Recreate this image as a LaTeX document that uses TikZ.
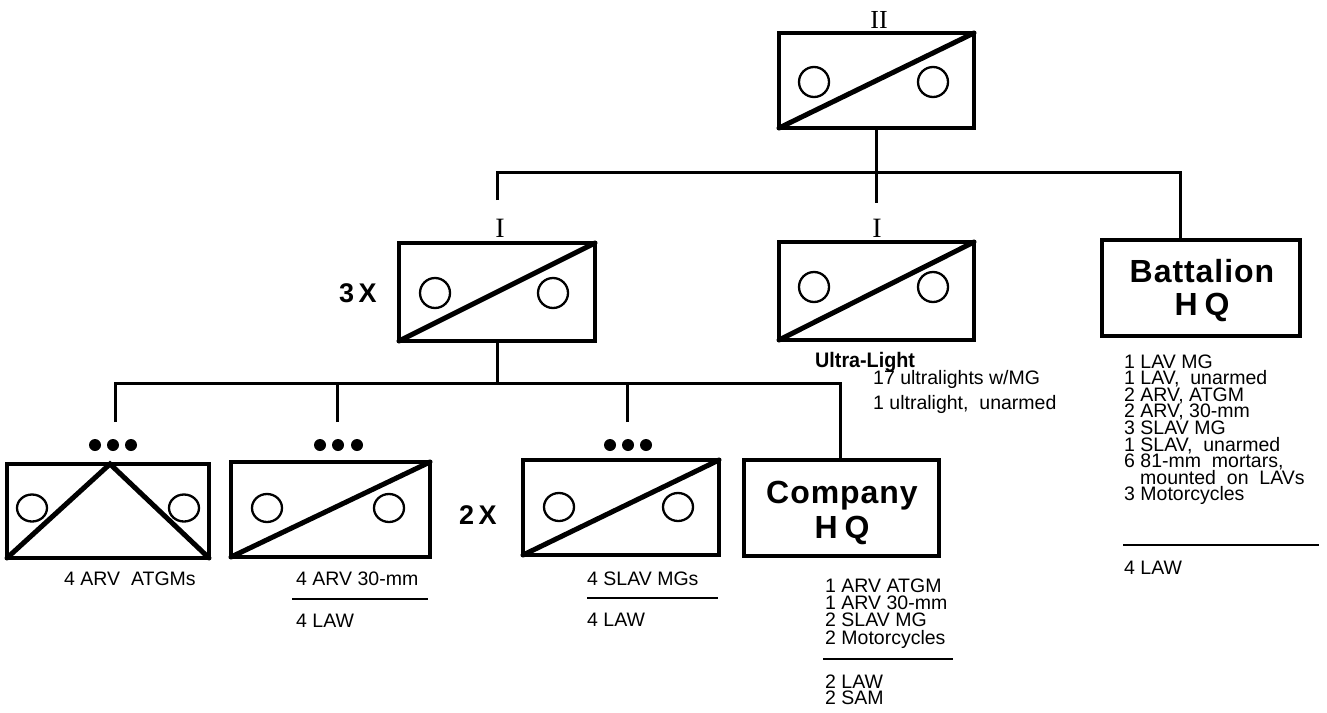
\documentclass[tikz,border=0pt]{standalone}
\usepackage{fontspec}
\setmainfont{Liberation Sans}
\newfontfamily\romfont{Liberation Serif}
\newfontfamily\ttlfont[LetterSpace=3]{Liberation Sans}
\begin{document}
\begin{tikzpicture}[x=1pt,y=-1pt,
  unitbox/.style={draw, rectangle, line width=3.2pt, inner sep=0pt, outer sep=0pt},
  conn/.style={line width=3pt},
  diag/.style={line width=5pt, line cap=round},
  ring/.style={line width=2.3pt},
  lst/.style={anchor=base west, inner sep=0pt, text height=13pt, text depth=3pt, font=\fontsize{19.5}{16.5}\selectfont},
  rulel/.style={line width=2.2pt},
  ttl/.style={anchor=base, inner sep=0pt, font=\fontsize{32}{33}\selectfont\ttlfont\bfseries},
  echelon/.style={anchor=base, inner sep=0pt, font=\romfont},
  mult/.style={inner sep=0pt, font=\fontsize{27}{28}\selectfont\bfseries},
  dot/.style={fill=black}
]
\useasboundingbox (0,0) rectangle (1327,712);

% ---------- boxes ----------
\node[unitbox, minimum width=195pt, minimum height=95pt] (top) at (876.5,80.5) {};
\node[unitbox, minimum width=196pt, minimum height=98pt] (mL) at (497,292) {};
\node[unitbox, minimum width=195pt, minimum height=98pt] (mC) at (876.5,291) {};
\node[unitbox, minimum width=198pt, minimum height=96pt] (bat) at (1201,288) {};
\node[unitbox, minimum width=202pt, minimum height=94pt] (b1) at (108,511) {};
\node[unitbox, minimum width=199pt, minimum height=95pt] (b2) at (330.5,509.5) {};
\node[unitbox, minimum width=196pt, minimum height=95pt] (b3) at (621,507.5) {};
\node[unitbox, minimum width=195pt, minimum height=96pt] (chq) at (841.5,508) {};

% diagonals
\draw[diag] (top.south west) -- (top.north east);
\draw[diag] (mL.south west) -- (mL.north east);
\draw[diag] (mC.south west) -- (mC.north east);
\draw[diag] (b2.south west) -- (b2.north east);
\draw[diag] (b3.south west) -- (b3.north east);
\coordinate (apex) at (110,464);
\draw[diag] (b1.south west) -- (apex) -- (b1.south east);

% circles
\draw[ring] (814,82) ellipse (15 and 15);
\draw[ring] (933,82) ellipse (15 and 15);
\draw[ring] (435,293) ellipse (15 and 15);
\draw[ring] (553,293) ellipse (15 and 15);
\draw[ring] (814,287) ellipse (15 and 15);
\draw[ring] (933,287) ellipse (15 and 15);
\draw[ring] (32,508) ellipse (15 and 13.5);
\draw[ring] (184,508) ellipse (15 and 13.5);
\draw[ring] (267,508) ellipse (15 and 14);
\draw[ring] (389,508) ellipse (15 and 14);
\draw[ring] (559,507) ellipse (15 and 14);
\draw[ring] (678,507) ellipse (15 and 14);

% ---------- connectors ----------
\coordinate (mCend) at (876.5,203);
\coordinate (mLend) at (497,200);
\coordinate (hR) at (1180,172);
\draw[conn] (top.south) -- (mCend);
\draw[conn] (mLend) |- (hR) -- (hR |- bat.north);

\coordinate (bR) at (840,383);
\coordinate (e1) at (115,422);
\coordinate (e2) at (337,422);
\coordinate (e3) at (627,422);
\draw[conn] (mL.south) -- (mL.south |- bR);
\draw[conn] (e1) |- (bR) -- (bR |- chq.north);
\draw[conn] (e2) -- (e2 |- bR);
\draw[conn] (e3) -- (e3 |- bR);

% ---------- echelon marks ----------
\node[echelon, font=\fontsize{26}{26}\selectfont\romfont] (lII) at (879,28) {II};
\node[echelon, font=\fontsize{28}{28}\selectfont\romfont] (lI1) at (500,237) {I};
\node[echelon, font=\fontsize{28}{28}\selectfont\romfont] (lI2) at (877,237) {I};
\foreach \x in {95,113,131,320,338,357,610,628,646}
  \fill[dot] (\x,445) circle (6);

\node[mult] (m3) at (358,293) {3\,X};
\node[mult] (m2) at (478,515) {2\,X};

% ---------- titles ----------
\node[ttl] (batT) at (1202,282) {Battalion};
\node[ttl] (batQ) at (1202,315) {H\hspace{7pt}Q};
\node[ttl] (chqT) at (842,503) {Company};
\node[ttl] (chqQ) at (842,538) {H\hspace{7pt}Q};

\node[anchor=base west, inner sep=0pt, font=\fontsize{21}{21}\selectfont\bfseries, xscale=0.94] (ul) at (815,367) {Ultra-Light};
\node[lst] (ul1) at (873,384) {17 ultralights w/MG};
\node[lst] (ul2) at (873,409) {1 ultralight,\ \ unarmed};

% ---------- lists ----------
\node[lst] (t1) at (64,585) {4 ARV\ \ ATGMs};
\node[lst] (t2) at (296,585) {4 ARV 30-mm};
\draw[rulel] (292,599) -- (428,599);
\node[lst] (t2b) at (296,627) {4 LAW};
\node[lst] (t3) at (587,585) {4 SLAV MGs};
\draw[rulel] (587,598) -- (718,598);
\node[lst] (t3b) at (587,626) {4 LAW};

\foreach \t [count=\i] in {1 ARV ATGM, 1 ARV 30-mm, 2 SLAV MG, 2 Motorcycles}
  \node[lst] (c\i) at (825,{592+17.4*(\i-1)}) {\t};
\draw[rulel] (823,659) -- (953,659);
\node[lst] (c5) at (825,688) {2 LAW};
\node[lst] (c6) at (825,704) {2 SAM};

\foreach \t [count=\i] in {1 LAV MG, {1 LAV,\ \ unarmed}, {2 ARV, ATGM}, {2 ARV, 30-mm}, 3 SLAV MG, {1 SLAV,\ \ unarmed}, 6 81-mm\ \ mortars{,}, \hspace{16pt}mounted\ \ on\ \ LAVs, 3 Motorcycles}
  \node[lst] (bl\i) at (1124,{368+16.6*(\i-1)}) {\t};
\draw[rulel] (1123,545) -- (1319,545);
\node[lst] (bl10) at (1124,574) {4 LAW};
\end{tikzpicture}
\end{document}
